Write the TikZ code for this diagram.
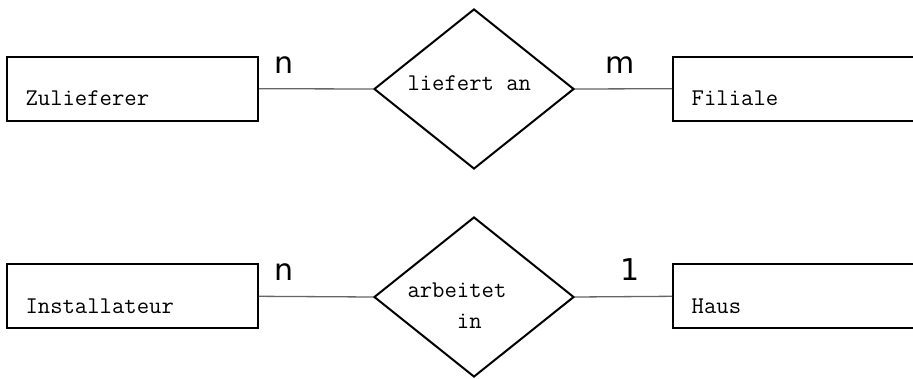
\documentclass[tikz,border=0pt]{standalone}
\usepackage{fontspec}
\newfontfamily\cardfont{DejaVu Sans}
\usetikzlibrary{shapes.geometric}
\tikzset{
  entity/.style={draw=black, line width=2pt, rectangle, inner xsep=18.7pt, inner ysep=0pt,
    text height=49pt, text depth=15pt, font=\ttfamily\fontsize{24}{31}\selectfont, anchor=center},
  relation/.style={draw=black, line width=2pt, diamond, inner sep=0pt,
    minimum width=200pt, minimum height=160pt, font=\ttfamily\fontsize{24}{31}\selectfont},
  conn/.style={draw=black!60, line width=1.3pt},
  card/.style={font=\cardfont\fontsize{30}{36}\selectfont, anchor=base, inner sep=0pt}
}
\newcommand{\enttext}[1]{\makebox[213.6pt][l]{#1}}
\newcommand{\reltext}[1]{\smash{\parbox[t]{133pt}{#1}}}
\begin{document}
\begin{tikzpicture}[x=1pt, y=-1pt]
\useasboundingbox (0,0) rectangle (913,378);
\clip (0,0) rectangle (913,378);
\fill[white] (0,0) rectangle (913,378);
% top row
\node[entity] (zul) at (132.35,88.7) {\enttext{Zulieferer}};
\node[relation] (lief) at (474,89) {\reltext{\raisebox{-1pt}{liefert an}}};
\node[entity] (fil) at (798.5,88.7) {\enttext{Filiale}};
% bottom row
\node[entity] (inst) at (132.35,296.3) {\enttext{Installateur}};
\node[relation] (arb) at (474,297) {\reltext{arbeitet\\\hphantom{arbe}in}};
\node[entity] (haus) at (798.5,296.3) {\enttext{Haus}};
% connectors
\draw[conn] (zul.east) -- node[card, pos=0.216, yshift=15.7pt] {n} (lief.west);
\draw[conn] (lief.east) -- node[card, pos=0.46, yshift=15.7pt] {m} (fil.west);
\draw[conn] (inst.east) -- node[card, pos=0.216, yshift=15.7pt] {n} (arb.west);
\draw[conn] (arb.east) -- node[card, pos=0.57, yshift=15.7pt] {1} (haus.west);
\end{tikzpicture}
\end{document}
